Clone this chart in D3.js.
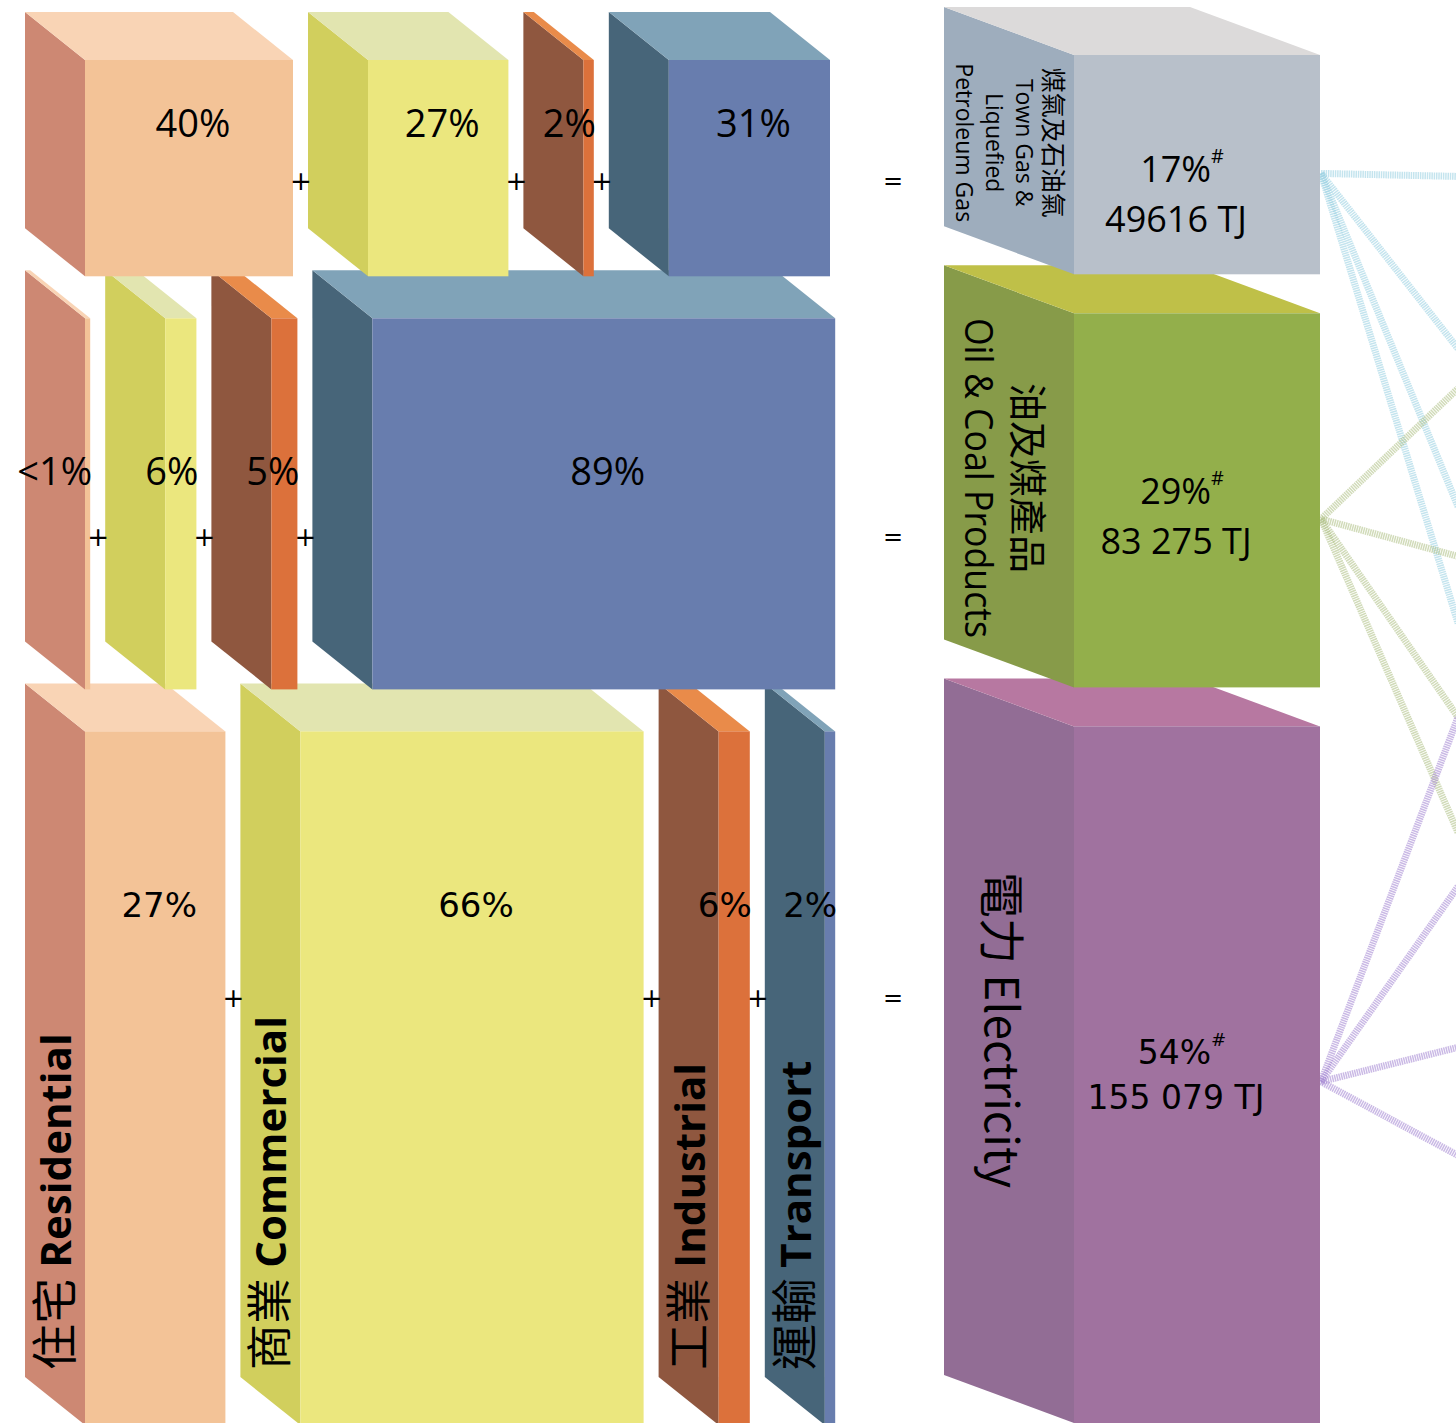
<!DOCTYPE html>
<html><head><meta charset="utf-8">
<script src="https://cdn.jsdelivr.net/npm/d3@7/dist/d3.min.js"></script>
<style>html,body{margin:0;padding:0;background:#fff;overflow:hidden}</style>
</head><body>
<svg id="chart" width="1456" height="1423"></svg>
<script>
// ---------------- DATA ----------------
const sectors = ["Residential", "Commercial", "Industrial", "Transport"];
const sectorNamesZh = ["住宅", "商業", "工業", "運輸"];
const fuelNamesEn = ["Town Gas & Liquefied Petroleum Gas", "Oil & Coal Products", "Electricity"];
const fuelShare = [17, 29, 54];               // % of total
const fuelTJ = ["49616", "83 275", "155 079"];  // TJ labels
const townGasSplit = [40, 27, 2, 31];
const oilCoalSplit = [1, 6, 5, 89];
const electricitySplit = [27, 66, 6, 2];
const splitLabels = [
  ["40%", "27%", "2%", "31%"],
  ["<1%", "6%", "5%", "89%"],
  ["27%", "66%", "6%", "2%"]
];
const fuelLabelLines = [
  ["煤氣及石油氣", "Town Gas &", "Liquefied", "Petroleum Gas"],
  ["油及煤產品", "Oil & Coal Products"],
  ["電力 Electricity"]
];
// where each fuel's flow lines leave the picture (percent of page height)
const linkTargets = [
  [12.4, 24.5, 35.6, 43.8],
  [27.3, 39.1, 50.4, 58.5],
  [50.4, 62.3, 73.6, 81.2]
];

// ---------------- STYLE ----------------
const sectorColors = [
  {front: "#F3C397", side: "#CD8873", top: "#F9D4B5"},
  {front: "#EBE77E", side: "#D1CF5D", top: "#E2E5B0"},
  {front: "#DC713B", side: "#8F573F", top: "#E98B4A"},
  {front: "#687DAE", side: "#476579", top: "#80A3B8"}
];
const fuelColors = [
  {front: "#B8C0CA", side: "#9EADBD", top: "#DCDADA", link: "#9CD2E2"},
  {front: "#93AF4B", side: "#879B49", top: "#BFC048", link: "#B3C38A"},
  {front: "#A0729F", side: "#926D95", top: "#B778A1", link: "#A68BD3"}
];
const rowLayout = [
  {pctY: 0.285, opY: 0.56, valY: 0.63, connY: 0.54, sideY: 0.40, sideX: 19, step: 30, pctFont: "Open Sans", pctSize: 38, valFont: "Open Sans", valSize: 36, lineGap: 50},
  {pctY: 0.41, opY: 0.59, valY: 0.54, connY: 0.55, sideY: 0.44, sideX: 44, step: 50, pctFont: "Open Sans", pctSize: 38, valFont: "Open Sans", valSize: 36, lineGap: 50},
  {pctY: 0.25, opY: 0.385, valY: 0.50, connY: 0.51, sideY: 0.436, sideX: 69, step: 0, pctFont: "DejaVu Sans", pctSize: 34, valFont: "DejaVu Sans", valSize: 33, lineGap: 46}
];

const W = 1456, H = 1423;
const splits = [townGasSplit, oilCoalSplit, electricitySplit];

const svg = d3.select("#chart");
svg.append("rect").attr("width", W).attr("height", H).attr("fill", "#ffffff");

// scales
const hScale = d3.scaleLinear().domain([0, 100]).range([0, 1290]);  // fuel share -> row height
const wScale = d3.scaleLinear().domain([0, 100]).range([0, 520]);   // sector share -> box width
const pageY = d3.scaleLinear().domain([0, 100]).range([0, H]);

const rowTop0 = 55, rowGap = 39;
const bands = [];
let acc = rowTop0;
fuelShare.forEach((s, i) => {
  const h = hScale(s);
  bands.push({top: acc, bottom: acc + h, h: h});
  acc += h + rowGap;
});

const sDx = 60, sDy = 48, sGap = 15, sStart = 25;
const fDx = 130, fDy = 48, fLeft = 1074, fWidth = 246;

function box(g, xf, xr, top, bottom, dx, dy, c) {
  g.append("polygon")
    .attr("points", [[xf - dx, top - dy], [xf, top], [xf, bottom], [xf - dx, bottom - dy]].join(" "))
    .attr("fill", c.side);
  g.append("polygon")
    .attr("points", [[xf - dx, top - dy], [xr - dx, top - dy], [xr, top], [xf, top]].join(" "))
    .attr("fill", c.top);
  g.append("rect").attr("x", xf).attr("y", top).attr("width", Math.max(xr - xf, 0)).attr("height", bottom - top)
    .attr("fill", c.front);
}

// links first (behind everything)
const linkG = svg.append("g");
linkTargets.forEach((targets, r) => {
  const b = bands[r];
  const y0 = b.top + b.h * rowLayout[r].connY;
  targets.forEach(t => {
    linkG.append("line")
      .attr("x1", fLeft + fWidth + 1).attr("y1", y0)
      .attr("x2", W + 2).attr("y2", pageY(t))
      .attr("stroke", fuelColors[r].link)
      .attr("stroke-width", 7)
      .attr("stroke-opacity", 0.6)
      .attr("stroke-dasharray", "1.5 0.8");
  });
});

// draw rows bottom -> top so upper rows overlap lower top faces
const rowsG = svg.append("g");
const rowGroups = [2, 1, 0].map(r => ({r, g: rowsG.append("g")}));

rowGroups.forEach(({r, g}) => {
  const b = bands[r];
  const L = rowLayout[r];
  const sTop = b.top + 5, sBot = b.bottom + 2, sH = sBot - sTop;

  // sector boxes
  let back = sStart;
  const boxes = splits[r].map((v, i) => {
    const xf = back + sDx;
    const xr = xf + wScale(v);
    back = xr + sGap;
    return {i, v, xf, xr};
  });
  boxes.forEach(bx => box(g, bx.xf, bx.xr, sTop, sBot, sDx, sDy, sectorColors[bx.i]));

  // percentage labels
  boxes.forEach(bx => {
    const narrow = (bx.xr - bx.xf) < 60;
    g.append("text")
      .attr("x", narrow ? bx.xr + 2 : (bx.xf + bx.xr) / 2 + 4)
      .attr("y", sTop + sH * L.pctY)
      .attr("text-anchor", narrow ? "end" : "middle")
      .attr("dominant-baseline", "central")
      .attr("font-family", L.pctFont)
      .attr("font-size", L.pctSize)
      .attr("fill", "#000")
      .text(splitLabels[r][bx.i]);
  });

  // plus signs
  boxes.slice(0, -1).forEach(bx => {
    g.append("text")
      .attr("x", bx.xr + 8).attr("y", sTop + sH * L.opY)
      .attr("text-anchor", "middle").attr("dominant-baseline", "central")
      .attr("font-family", "DejaVu Sans").attr("font-size", 26).attr("fill", "#000")
      .text("+");
  });
  // equals
  g.append("text")
    .attr("x", 893).attr("y", sTop + sH * L.opY)
    .attr("text-anchor", "middle").attr("dominant-baseline", "central")
    .attr("font-family", "DejaVu Sans").attr("font-size", 24).attr("fill", "#000")
    .text("=");

  // sector names on bottom row side faces
  if (r === 2) {
    boxes.forEach(bx => {
      const x = bx.xf - 14, y = sBot - 55;
      const t = g.append("text")
        .attr("transform", `translate(${x},${y}) rotate(-90)`)
        .attr("fill", "#000");
      t.append("tspan")
        .attr("font-family", "Noto Sans CJK TC").attr("font-size", 46)
        .text(sectorNamesZh[bx.i] + " ");
      t.append("tspan")
        .attr("font-family", "Open Sans").attr("font-weight", "bold").attr("font-size", 42)
        .text(sectors[bx.i]);
    });
  }

  // fuel box
  const fc = fuelColors[r];
  box(g, fLeft, fLeft + fWidth, b.top, b.bottom, fDx, fDy, fc);

  // fuel side label (rotated clockwise, first line on the right)
  const yc = b.top + b.h * L.sideY;
  fuelLabelLines[r].forEach((line, k) => {
    const isZh = /[\u4e00-\u9fff]/.test(line[0]);
    let size;
    if (r === 0) size = isZh ? 25 : 23;
    else if (r === 1) size = 38;
    else size = 46;
    const t = g.append("text")
      .attr("transform", `translate(${fLeft - L.sideX - k * L.step},${yc}) rotate(90)`)
      .attr("text-anchor", "middle")
      .attr("dominant-baseline", "central")
      .attr("font-family", isZh ? "Noto Sans CJK TC" : "Open Sans")
      .attr("font-size", size)
      .attr("fill", "#000")
      .text(line);
    if (r === 1 && !isZh) {
      const len = t.node().getComputedTextLength();
      if (len > 320) t.attr("textLength", 320).attr("lengthAdjust", "spacingAndGlyphs");
    }
  });

  // fuel value text (two lines)
  const cx = 1176;
  const vc = b.top + b.h * L.valY;
  const half = L.lineGap / 2;
  const t1 = g.append("text")
    .attr("x", cx + 6).attr("y", vc - half)
    .attr("text-anchor", "middle").attr("dominant-baseline", "central")
    .attr("font-family", L.valFont).attr("font-size", L.valSize).attr("fill", "#000");
  t1.append("tspan").text(fuelShare[r] + "%");
  t1.append("tspan").attr("font-size", L.valSize * 0.55).attr("dy", -13).text("#");
  g.append("text")
    .attr("x", cx).attr("y", vc + half)
    .attr("text-anchor", "middle").attr("dominant-baseline", "central")
    .attr("font-family", L.valFont).attr("font-size", L.valSize).attr("fill", "#000")
    .text(fuelTJ[r] + " TJ");
});
</script>
</body></html>
